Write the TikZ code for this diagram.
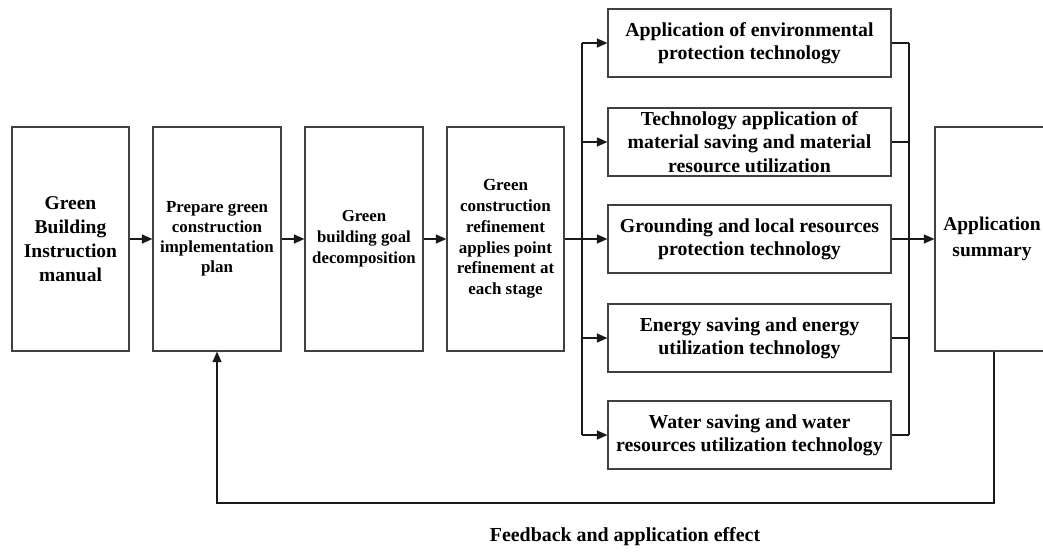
\documentclass[tikz,border=0pt]{standalone}
\usepackage{fontspec}
\setmainfont{Liberation Serif}
\usetikzlibrary{arrows.meta}
\begin{document}
\begin{tikzpicture}[x=1pt,y=-1pt,
  box/.style={draw=black!75,line width=1.2pt,inner sep=0pt,align=center,font=\bfseries},
  lbox/.style={box,minimum height=224pt},
  rbox/.style={box,minimum width=283pt,minimum height=68pt,font=\bfseries\fontsize{19.8}{23.3}\selectfont},
  conn/.style={draw=black!90,line width=1.2pt},
  arr/.style={conn,-{Triangle[length=10.5pt,width=9pt]}}]
\useasboundingbox (0,0) rectangle (1043,554);
% left column of boxes
\node[lbox,minimum width=117pt,font=\bfseries\fontsize{19.5}{24}\selectfont] (b1) at (70.5,239) {Green\\Building\\Instruction\\manual};
\node[lbox,minimum width=128pt,font=\bfseries\fontsize{16.9}{20}\selectfont] (b2) at (217,239) {Prepare green\\construction\\implementation\\plan};
\node[lbox,minimum width=118pt,font=\bfseries\fontsize{16.8}{21}\selectfont] (b3) at (364,239) {Green\\building goal\\decomposition};
\node[lbox,minimum width=117pt,font=\bfseries\fontsize{17}{20.8}\selectfont] (b4) at (505.5,239) {Green\\construction\\refinement\\applies point\\refinement at\\each stage};
% right column
\node[rbox] (A) at (749.5,43) {Application of environmental\\protection technology};
\node[rbox] (B) at (749.5,142) {Technology application of\\material saving and material\\resource utilization};
\node[rbox] (C) at (749.5,239) {Grounding and local resources\\protection technology};
\node[rbox] (D) at (749.5,338) {Energy saving and energy\\utilization technology};
\node[rbox] (E) at (749.5,435) {Water saving and water\\resources utilization technology};
% summary
\node[box,minimum width=114pt,minimum height=224pt,font=\bfseries\fontsize{19.5}{26}\selectfont] (S) at (992,239) {Application\\summary};
% label
\node[font=\bfseries\fontsize{19.9}{24}\selectfont] (fbl) at (625,537) {Feedback and application effect};
% connectors
\draw[arr] (b1) -- (b2);
\draw[arr] (b2) -- (b3);
\draw[arr] (b3) -- (b4);
\coordinate (lt) at (582,43);
\coordinate (lb) at (582,435);
\coordinate (rt) at (909,43);
\coordinate (rb) at (909,435);
\draw[conn] (lt) -- (lb);
\draw[conn] (rt) -- (rb);
\draw[arr] (b4.east) -- (C.west);
\draw[arr] (A.west -| lt) -- (A.west);
\draw[arr] (B.west -| lt) -- (B.west);
\draw[arr] (D.west -| lt) -- (D.west);
\draw[arr] (E.west -| lt) -- (E.west);
\draw[conn] (A.east) -- (A.east -| rt);
\draw[conn] (B.east) -- (B.east -| rt);
\draw[conn] (D.east) -- (D.east -| rt);
\draw[conn] (E.east) -- (E.east -| rt);
\draw[arr] (C.east) -- (S.west);
\coordinate (fb) at (994,503);
\draw[arr] (S.south -| fb) -- (fb) -| (b2.south);
\end{tikzpicture}
\end{document}
